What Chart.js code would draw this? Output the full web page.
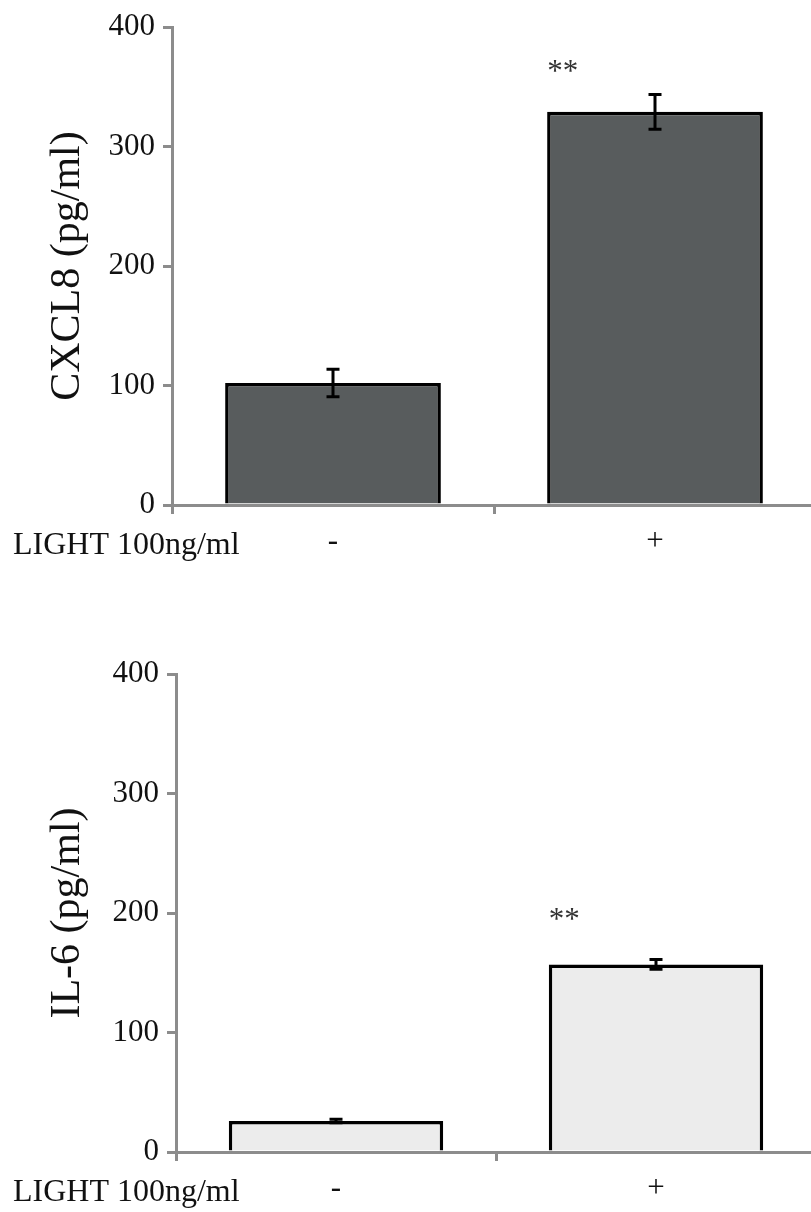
<!DOCTYPE html>
<html>
<head>
<meta charset="utf-8">
<title>CXCL8 / IL-6</title>
<script src="https://cdn.jsdelivr.net/npm/chart.js@4/dist/chart.umd.min.js"></script>
<style>
  html, body { margin: 0; padding: 0; background: #fff; overflow: hidden; }
  .panel { position: relative; width: 816px; height: 606px; }
</style>
</head>
<body>
<div class="panel"><canvas id="cxcl8-canvas"></canvas></div>
<div class="panel"><canvas id="il6-canvas"></canvas></div>
<script>
// LIGHT treatment groups
const groups = ["-", "+"];
const rowLabel = "LIGHT 100ng/ml";

// CXCL8 secretion (pg/ml), mean and error
const cxcl8Mean = [102, 329];
const cxcl8Err = [11.5, 14.5];

// IL-6 secretion (pg/ml), mean and error
const il6Mean = [26, 157];
const il6Err = [1.5, 4];

// significance marks per group
const sigMarks = ["", "**"];

const yMin = 0;
const yMax = 400;
const yStep = 100;

const SERIF = "'Liberation Serif', 'Times New Roman', serif";
const AXIS = "#8c8c8c";
const INK = "#111";

// error bars + significance stars + row label under the axis
const extras = {
  id: "extras",
  afterDatasetsDraw(chart, args, o) {
    const { ctx, scales: { y }, chartArea } = chart;
    const meta = chart.getDatasetMeta(0);
    const ds = chart.data.datasets[0];
    ctx.save();
    ctx.strokeStyle = "#000";
    ctx.lineWidth = 3;
    meta.data.forEach((bar, i) => {
      const v = ds.data[i], e = ds.errors[i];
      const top = y.getPixelForValue(v + e);
      const bot = y.getPixelForValue(v - e);
      ctx.beginPath();
      ctx.moveTo(bar.x, top); ctx.lineTo(bar.x, bot);
      ctx.moveTo(bar.x - 6.5, top); ctx.lineTo(bar.x + 6.5, top);
      ctx.moveTo(bar.x - 6.5, bot); ctx.lineTo(bar.x + 6.5, bot);
      ctx.stroke();

      const mark = ds.marks[i];
      if (mark) {
        ctx.fillStyle = "#333";
        ctx.font = `31px ${SERIF}`;
        ctx.textAlign = "left";
        ctx.textBaseline = "middle";
        ctx.fillText(mark, bar.x - bar.width / 2, top - o.sigGap);
      }
    });

    ctx.fillStyle = INK;
    ctx.font = `32px ${SERIF}`;
    ctx.textAlign = "left";
    ctx.textBaseline = "alphabetic";
    ctx.fillText(rowLabel, 13, chartArea.bottom + o.rowGap);
    ctx.restore();
  },
};

function makePanel(id, { title, means, errs, fill, top, axisLeft, sigGap }) {
  const el = document.getElementById(id);
  return new Chart(el, {
    type: "bar",
    data: {
      labels: groups,
      datasets: [{
        data: means,
        errors: errs,
        marks: sigMarks,
        backgroundColor: fill,
        borderColor: "#000",
        borderWidth: 3.5,
        borderSkipped: "start",
        categoryPercentage: 1,
        barPercentage: 0.67,
      }],
    },
    options: {
      responsive: true,
      maintainAspectRatio: false,
      animation: false,
      layout: { padding: { top, left: 0, right: 0, bottom: 0 } },
      plugins: {
        legend: { display: false },
        tooltip: { enabled: false },
        extras: { sigGap, rowGap: 49 },
      },
      scales: {
        x: {
          z: 1,
          afterFit: (s) => { s.height = 606 - top - 478; },
          border: { display: true, color: AXIS, width: 3 },
          grid: { offset: true, drawOnChartArea: false, drawTicks: true, tickLength: 9, color: AXIS, lineWidth: 3 },
          ticks: { color: INK, font: { family: SERIF, size: 31 }, padding: 9 },
        },
        y: {
          min: yMin,
          max: yMax,
          afterFit: (s) => { s.width = axisLeft; },
          border: { display: true, color: AXIS, width: 3 },
          grid: { drawOnChartArea: false, drawTicks: true, tickLength: 9, color: AXIS, lineWidth: 3 },
          ticks: { stepSize: yStep, color: INK, font: { family: SERIF, size: 31 }, padding: 8 },
          title: {
            display: true,
            text: title,
            color: INK,
            font: { family: SERIF, size: 42 },
            padding: { top: 43, bottom: 0 },
          },
        },
      },
    },
    plugins: [extras],
  });
}

makePanel("cxcl8-canvas", {
  title: "CXCL8 (pg/ml)",
  means: cxcl8Mean,
  errs: cxcl8Err,
  fill: "#585c5d",
  top: 27,
  axisLeft: 172,
  sigGap: 22,
});

makePanel("il6-canvas", {
  title: "IL-6 (pg/ml)",
  means: il6Mean,
  errs: il6Err,
  fill: "#ececec",
  top: 68,
  axisLeft: 176,
  sigGap: 39,
});
</script>
</body>
</html>
